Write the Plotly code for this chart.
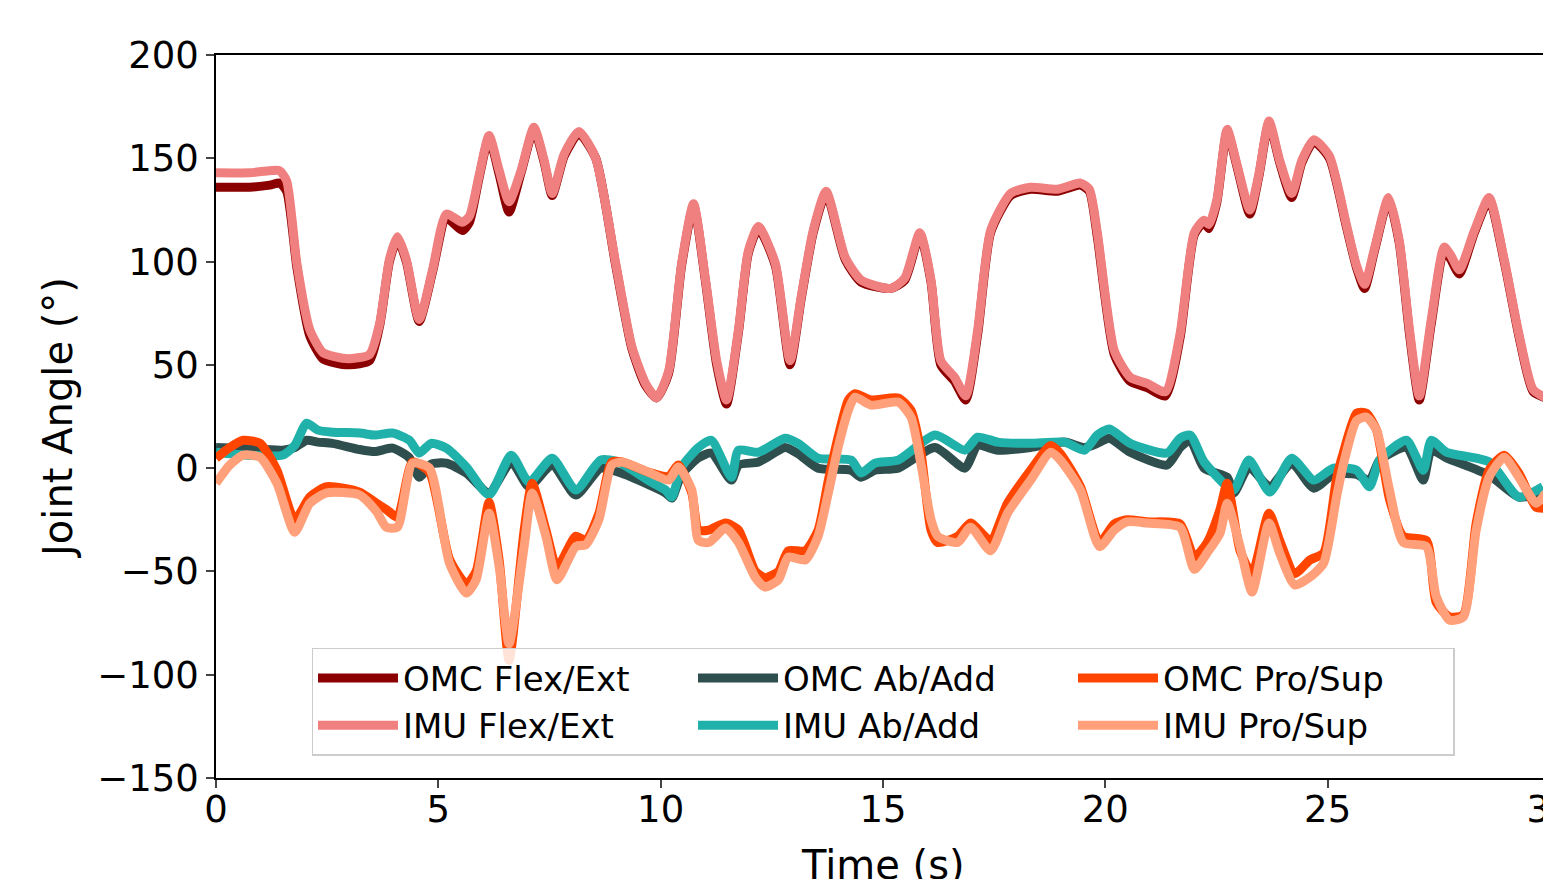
import plotly.graph_objects as go

# ---------------- data ----------------
t_flex = [0.0, 0.76, 1.21, 1.43, 1.59, 1.82, 2.11, 2.40, 2.67, 3.0, 3.45, 3.68, 3.9, 4.08, 4.28, 4.57,
          4.87, 5.18, 5.54, 5.70, 5.92, 6.14, 6.37, 6.59, 6.86, 7.15, 7.38, 7.56, 7.83, 8.16, 8.54,
          8.99, 9.35, 9.66, 9.91, 10.18, 10.47, 10.74, 11.01, 11.26, 11.48, 11.75, 11.97, 12.20,
          12.58, 12.91, 13.16, 13.43, 13.72, 14.15, 14.51, 15.18, 15.49, 15.83, 16.08, 16.30, 16.61,
          16.86, 17.13, 17.42, 17.87, 18.32, 18.92, 19.44, 19.64, 19.82, 20.20, 20.56, 20.94, 21.35,
          21.68, 22.0, 22.22, 22.33, 22.51, 22.74, 22.96, 23.25, 23.45, 23.68, 23.92, 24.19, 24.42,
          24.69, 25.04, 25.43, 25.65, 25.83, 26.05, 26.37, 26.61, 26.84, 27.06, 27.33, 27.62, 27.77,
          27.96, 28.30, 28.63, 28.97, 29.30, 29.62, 29.91]
imu_flex = [143, 143, 144, 144, 139, 99, 67, 56, 54, 53, 55, 70, 101, 112, 101, 72,
            96, 123, 119, 122, 142, 161, 144, 129, 144, 165, 149, 133, 152, 163, 150,
            99, 59, 41, 34, 47, 99, 128, 91, 52, 33, 67, 105, 117,
            99, 52, 83, 115, 134, 102, 91, 87, 92, 114, 91, 52, 44,
            35, 67, 115, 133, 136, 135, 138, 135, 114, 57, 44, 41, 37,
            65, 114, 120, 118, 130, 164, 147, 125, 142, 168, 149, 133, 149,
            159, 151, 117, 98, 89, 106, 131, 110, 67, 35, 72, 107, 103,
            96, 115, 131, 101, 65, 38, 34]
omc_flex = [136, 136, 137, 138, 134, 97, 64, 53, 51, 50, 52, 69, 100, 111, 100, 71,
            95, 121, 115, 119, 141, 160, 142, 124, 143, 164, 148, 132, 151, 162, 150,
            98, 58, 40, 34, 46, 98, 127, 90, 50, 31, 66, 104, 116,
            98, 50, 82, 114, 133, 101, 90, 87, 91, 113, 90, 50, 42,
            33, 65, 114, 132, 135, 134, 137, 134, 112, 55, 42, 39, 35,
            63, 113, 119, 116, 129, 163, 146, 123, 141, 167, 148, 131, 148,
            158, 150, 116, 97, 87, 105, 130, 109, 65, 33, 70, 106, 101,
            94, 114, 130, 100, 64, 37, 34]

t_ab = [0.0, 0.65, 1.5, 1.77, 2.04, 2.29, 2.62, 3.23, 3.57, 3.97, 4.35, 4.57, 4.84, 5.18, 5.63, 6.14,
        6.64, 7.04, 7.56, 8.09, 8.65, 9.06, 9.73, 10.11, 10.25, 10.47, 10.85, 11.14, 11.59, 11.75,
        12.2, 12.8, 13.09, 13.54, 14.28, 14.51, 14.82, 15.34, 16.17, 16.84, 17.13, 17.58, 18.32,
        19.08, 19.53, 19.82, 20.09, 20.56, 21.39, 21.68, 21.91, 22.22, 22.74, 22.89, 23.23, 23.70,
        24.19, 24.69, 25.13, 25.65, 25.94, 26.17, 26.77, 27.15, 27.33, 27.67, 28.63, 29.30, 29.84]
imu_ab = [7.7, 6.3, 6.3, 11, 21.8, 18.4, 17.4, 17, 16, 17, 13.5, 7.3, 12, 9.7, 0.5, -13,
          6.3, -6.8, 4.8, -10.6, 3.9, 2.9, -6, -10.6, -14, 0.5, 10, 13.5, -4.4, 8.7,
          7.7, 14.5, 12, 4.8, 3.9, -2.4, 2.4, 3.9, 16, 8.7, 15, 12.6, 12,
          12.6, 8.7, 16, 19, 12, 7.3, 14.5, 16, 3, -9, -10.6, 3.9, -11.6,
          4.8, -5.8, 0, -1, -9, 3.9, 13.5, -1, 13.5, 7.7, 3, -14, -9]
omc_ab = [10, 9.5, 8.7, 10, 13.5, 12.6, 12, 9, 8, 9.7, 5, -4.4, 2, 2.4, -2.4, -12,
          3, -9, 1.5, -13, 0, -2, -8, -12, -14.5, -3, 5, 7.3, -5.8, 1.5,
          3, 10, 7, 0, -1, -4.4, -1, 0, 10, 0, 11, 8.7, 10,
          12.6, 10, 12, 14.5, 7.7, 1.5, 10, 13.5, 0, -4.4, -12, 0.5, -9,
          2.4, -9.7, -3, -3, -6, 3.9, 10, -5.8, 8.7, 5, -3.4, -14, -12]

t_pro = [0.0, 0.31, 0.61, 0.99, 1.37, 1.77, 2.11, 2.49, 3.23, 3.61, 3.83, 4.08, 4.42, 4.80, 5.25,
         5.63, 5.85, 6.14, 6.37, 6.59, 6.93, 7.11, 7.42, 7.67, 8.09, 8.32, 8.61, 8.90, 9.13, 9.73,
         10.18, 10.40, 10.70, 10.85, 11.08, 11.46, 11.75, 12.13, 12.35, 12.65, 12.87, 13.25, 13.54,
         13.77, 13.99, 14.22, 14.37, 14.73, 15.34, 15.63, 15.85, 16.08, 16.23, 16.68, 16.97, 17.42,
         17.80, 18.32, 18.77, 18.99, 19.44, 19.87, 20.20, 20.49, 20.94, 21.68, 22.0, 22.29, 22.58,
         22.74, 23.03, 23.30, 23.68, 23.92, 24.26, 24.60, 24.91, 25.20, 25.36, 25.65, 25.87, 26.10,
         26.39, 26.70, 27.22, 27.44, 27.74, 28.05, 28.34, 28.63, 28.97, 29.30, 29.69, 29.91]
imu_pro = [-7.3, 1.5, 6.3, 5.3, -7.3, -31, -17, -12, -13, -21, -28.6, -28.6, 2.4, 0, -46,
           -60.5, -54, -21.8, -48, -85, -38, -12, -33, -54, -38, -37, -25, 1.5, 3, -2,
           -5.8, 0.5, -10.6, -35, -36, -29, -36, -53, -57.6, -54, -43, -44.5, -33,
           -12, 10, 28, 34.4, 30.5, 32, 24.7, 2.4, -25, -33, -36, -28.6, -40,
           -21.8, -5.8, 7.7, 3.9, -10.6, -38, -30, -26, -26.6, -28.6, -49, -41, -31.5,
           -17, -38, -60, -26.6, -41, -56.6, -52.8, -46, -14, 2.4, 23, 24.7, 18.4,
           -10.6, -36, -38, -62, -73.6, -72, -30, -4.4, 5.3, -4.4, -17, -12]
omc_pro = [4.8, 10, 13.5, 12, -1, -25, -14, -9, -11.6, -17, -20, -23.7, 3, -2, -44,
           -56, -50, -16.5, -45, -93, -30, -7.3, -30, -48, -33, -35, -22, 3, 3, -2,
           -4, 1.5, -12, -30, -30, -26.6, -30, -50, -53, -50, -40, -40, -30,
           -6, 15, 33, 36, 33, 34, 28, 8, -30, -36, -33, -26.6, -35,
           -17, -1, 11, 7, -9, -36, -27, -25, -26, -27, -43, -36, -20,
           -7.3, -40, -51, -21.8, -35, -51, -44.5, -41, -5, 8, 26.6, 26.6, 18.4,
           -15, -33, -35, -65, -72, -71, -26.6, -1, 6.3, -2.4, -19, -19.4]

y_ticks = [-150, -100, -50, 0, 50, 100, 150, 200]
x_ticks = [0, 5, 10, 15, 20, 25, 30]

# (name, t, values, color, legend rank) in drawing order
series = [
    ("OMC Flex/Ext", t_flex, omc_flex, "#8B0000", 1),
    ("IMU Flex/Ext", t_flex, imu_flex, "#F08080", 4),
    ("OMC Ab/Add", t_ab, omc_ab, "#2F4F4F", 2),
    ("IMU Ab/Add", t_ab, imu_ab, "#20B2AA", 5),
    ("OMC Pro/Sup", t_pro, omc_pro, "#FF4500", 3),
    ("IMU Pro/Sup", t_pro, imu_pro, "#FFA07A", 6),
]

fig = go.Figure()
for name, t, v, c, rank in series:
    fig.add_trace(go.Scatter(
        x=t, y=v, mode="lines", name=name, legendrank=rank,
        line=dict(color=c, width=9, shape="spline", smoothing=0.6),
    ))

FONT = "DejaVu Sans"
# page body has an 8px margin, so the figure is sized/margined to compensate
fig.update_layout(
    width=1543, height=871,
    margin=dict(l=208, r=1, t=47, b=101),
    paper_bgcolor="white", plot_bgcolor="white",
    font=dict(family=FONT, size=34, color="black"),
    showlegend=True,
    legend=dict(
        orientation="h", x=0.5, y=0.18, xanchor="center", yanchor="top",
        bgcolor="rgba(255,255,255,0.85)", bordercolor="#cccccc", borderwidth=1.5,
        font=dict(family=FONT, size=34), entrywidth=285, entrywidthmode="pixels",
        itemwidth=80, traceorder="normal",
    ),
    xaxis=dict(
        range=[0, 30], tickvals=x_ticks, ticks="outside", ticklen=8, tickwidth=1.5,
        showline=True, linecolor="black", linewidth=1.5, mirror=True,
        showgrid=False, zeroline=False, automargin=False,
        ticklabeloverflow="allow", ticklabelstandoff=-10,
        tickfont=dict(family=FONT, size=37),
    ),
    yaxis=dict(
        range=[-150, 200], tickvals=y_ticks, ticks="outside", ticklen=8, tickwidth=1.5,
        showline=True, linecolor="black", linewidth=1.5, mirror=True,
        showgrid=False, zeroline=False, automargin=False,
        tickfont=dict(family=FONT, size=37),
        title=dict(text="Joint Angle (°)", font=dict(family=FONT, size=40), standoff=12),
    ),
    annotations=[dict(
        text="Time (s)", xref="paper", yref="paper", x=0.5, y=-0.086,
        xanchor="center", yanchor="top", showarrow=False,
        font=dict(family=FONT, size=40, color="black"),
    )],
)

fig.write_html("out.html")
